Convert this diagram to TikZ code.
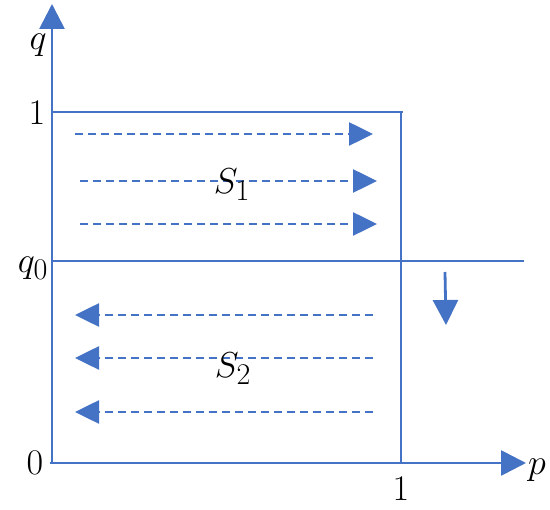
\documentclass[tikz,border=0pt]{standalone}
\usetikzlibrary{arrows.meta}
\definecolor{ax}{HTML}{4472C4}
\begin{document}
\begin{tikzpicture}[x=1pt,y=-1pt,
  axisline/.style={draw=ax, line width=2.8pt},
  axtip/.style={axisline, -{Triangle[length=25pt,width=25pt]}},
  flow/.style={draw=ax, line width=2.6pt, dash pattern=on 8pt off 5pt, -{Triangle[length=24pt,width=23pt]}},
  lbl/.style={font=\Huge, scale=1.45, inner sep=0pt}]
\useasboundingbox (0,0) rectangle (550,510);
% axes
\coordinate (O) at (51,463);
\coordinate (ytop) at (52,4);
\coordinate (xend) at (526,463);
\draw[axtip] (52,464) -- (ytop);
\draw[axtip] (50,463) -- (xend);
% box
\coordinate (b1) at (52,112);
\coordinate (b2) at (403,112);
\coordinate (b3) at (401,463);
\draw[axisline] (b1) -- (b2);
\draw[axisline] (401,111) -- (b3);
\coordinate (h1) at (52,261);
\coordinate (h2) at (524,261);
\draw[axisline] (h1) -- (h2);
% flows S1
\coordinate (a1s) at (75,134); \coordinate (a1e) at (373,134);
\coordinate (a2s) at (80,181); \coordinate (a2e) at (377,181);
\coordinate (a3s) at (80,224); \coordinate (a3e) at (377,224);
\draw[flow] (a1s) -- (a1e);
\draw[flow] (a2s) -- (a2e);
\draw[flow] (a3s) -- (a3e);
% flows S2
\coordinate (c1s) at (373,315); \coordinate (c1e) at (75,315);
\coordinate (c2s) at (373,358); \coordinate (c2e) at (75,358);
\coordinate (c3s) at (373,412); \coordinate (c3e) at (75,412);
\draw[flow] (c1s) -- (c1e);
\draw[flow] (c2s) -- (c2e);
\draw[flow] (c3s) -- (c3e);
% down arrow
\coordinate (ds) at (445,272); \coordinate (de) at (446,325);
\draw[axtip] (ds) -- (de);
% labels
\node[lbl] (lq) at (38,45) {$q$};
\node[lbl] (l1y) at (37,113) {$1$};
\node[lbl] (lq0) at (33,268) {$q_0$};
\node[lbl] (l0) at (35,463) {$0$};
\node[lbl] (l1x) at (401,489) {$1$};
\node[lbl] (lp) at (537,470) {$p$};
\node[lbl] (s1) at (232,185) {$S_1$};
\node[lbl] (s2) at (233,369) {$S_2$};
\end{tikzpicture}
\end{document}
